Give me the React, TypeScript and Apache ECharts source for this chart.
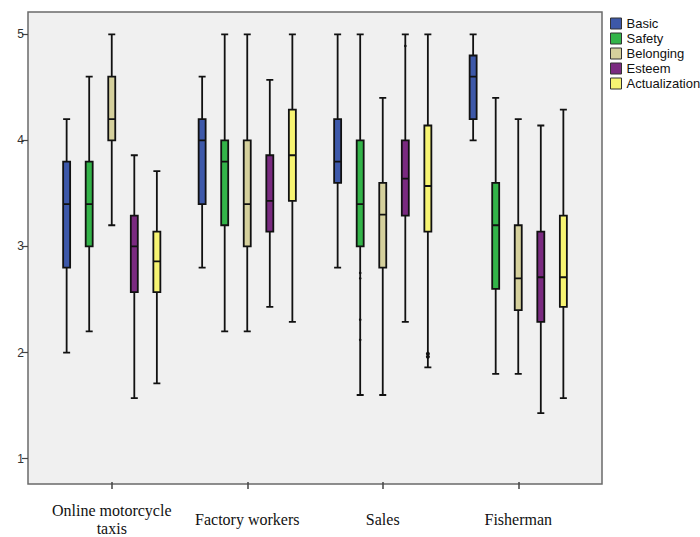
import React, { useEffect, useRef } from "react";
import * as echarts from "echarts";

const categories = ["Online motorcycle\ntaxis", "Factory workers", "Sales", "Fisherman"];
const seriesNames = ["Basic", "Safety", "Belonging", "Esteem", "Actualization"];
const seriesColors = ["#3d58a9", "#33b449", "#d5d09c", "#7a2a80", "#f7f472"];

// [min, Q1, median, Q3, max] per category
const basic = [
  [2.0, 2.8, 3.4, 3.8, 4.2],
  [2.8, 3.4, 4.0, 4.2, 4.6],
  [2.8, 3.6, 3.8, 4.2, 5.0],
  [4.0, 4.2, 4.6, 4.8, 5.0],
];
const safety = [
  [2.2, 3.0, 3.4, 3.8, 4.6],
  [2.2, 3.2, 3.8, 4.0, 5.0],
  [1.6, 3.0, 3.4, 4.0, 5.0],
  [1.8, 2.6, 3.2, 3.6, 4.4],
];
const belonging = [
  [3.2, 4.0, 4.2, 4.6, 5.0],
  [2.2, 3.0, 3.4, 4.0, 5.0],
  [1.6, 2.8, 3.3, 3.6, 4.4],
  [1.8, 2.4, 2.7, 3.2, 4.2],
];
const esteem = [
  [1.57, 2.57, 3.0, 3.29, 3.86],
  [2.43, 3.14, 3.43, 3.86, 4.57],
  [2.29, 3.29, 3.64, 4.0, 5.0],
  [1.43, 2.29, 2.71, 3.14, 4.14],
];
const actualization = [
  [1.71, 2.57, 2.86, 3.14, 3.71],
  [2.29, 3.43, 3.86, 4.29, 5.0],
  [1.86, 3.14, 3.57, 4.14, 5.0],
  [1.57, 2.43, 2.71, 3.29, 4.29],
];
// [category index, series index, value]
const outliers = [
  [2, 1, 2.75],
  [2, 1, 2.7],
  [2, 1, 2.31],
  [2, 1, 2.12],
  [2, 3, 4.89],
  [2, 4, 1.99],
  [2, 4, 1.96],
];
const yTicks = [1, 2, 3, 4, 5];
const yMin = 0.78;
const yMax = 5.21;

const allData = [basic, safety, belonging, esteem, actualization];

export default function App() {
  const ref = useRef<HTMLDivElement>(null);
  useEffect(() => {
    if (!ref.current) return;
    const chart = echarts.init(ref.current, null, { renderer: "svg" });
    const boxSeries = seriesNames.map((name, i) => ({
      name,
      type: "boxplot",
      data: allData[i],
      boxWidth: [7, 7],
      itemStyle: { color: seriesColors[i], borderColor: "#111", borderWidth: 1.8 },
      emphasis: { disabled: true },
      z: 3,
    }));
    const option: any = {
      animation: false,
      graphic: [
        {
          type: "rect",
          z: -10,
          shape: { x: 28, y: 12, width: 574, height: 472 },
          style: { fill: "#f0f0f0", stroke: "#6a6a6a", lineWidth: 1.5 },
          silent: true,
        },
      ],
      legend: {
        orient: "vertical",
        left: 605,
        top: 12,
        itemWidth: 11,
        itemHeight: 11,
        itemGap: 2,
        icon: "rect",
        data: seriesNames.map((n, i) => ({
          name: n,
          itemStyle: { color: seriesColors[i], borderColor: "#333", borderWidth: 1 },
        })),
        textStyle: { fontSize: 13, fontFamily: "Liberation Sans", color: "#111" },
      },
      grid: { left: 44, right: 114, top: 12, bottom: 53 },
      xAxis: {
        type: "category",
        data: categories,
        axisLine: { show: false },
        axisTick: { show: true, alignWithLabel: true, length: 7, lineStyle: { color: "#444", width: 1.5 } },
        axisLabel: {
          fontFamily: "Liberation Serif",
          fontSize: 16,
          color: "#111",
          lineHeight: 18,
          verticalAlign: "middle",
          margin: 37,
          interval: 0,
        },
        splitLine: { show: false },
      },
      yAxis: {
        type: "value",
        min: yMin,
        max: yMax,
        offset: 16,
        axisLine: { show: false },
        axisTick: { show: true, length: 6, customValues: yTicks, lineStyle: { color: "#444", width: 1.2 } },
        axisLabel: {
          customValues: yTicks,
          fontSize: 12,
          fontFamily: "Liberation Sans",
          color: "#333",
          margin: 4,
        },
        splitLine: { show: false },
      },
      series: [
        ...boxSeries,
        {
          name: "outliers",
          type: "custom",
          data: outliers,
          encode: { x: 0, y: 2 },
          z: 5,
          renderItem: (params: any, api: any) => {
            const cat = api.value(0);
            const si = api.value(1);
            const v = api.value(2);
            const pt = api.coord([cat, v]);
            const band = api.size([1, 0])[0];
            const avail = band * 0.8 - 2;
            const gap = (avail / 5) * 0.3;
            const bw = (avail - gap * 4) / 5;
            const x = pt[0] + (si - 2) * (gap + bw);
            return {
              type: "circle",
              shape: { cx: x, cy: pt[1], r: si === 4 ? 2 : 1.3 },
              style: { fill: "#111" },
            };
          },
        },
      ],
    };
    chart.setOption(option);
    return () => chart.dispose();
  }, []);
  return (
    <div
      ref={ref}
      style={{ position: "fixed", left: 0, top: 0, width: 700, height: 537, background: "#fff" }}
    />
  );
}
